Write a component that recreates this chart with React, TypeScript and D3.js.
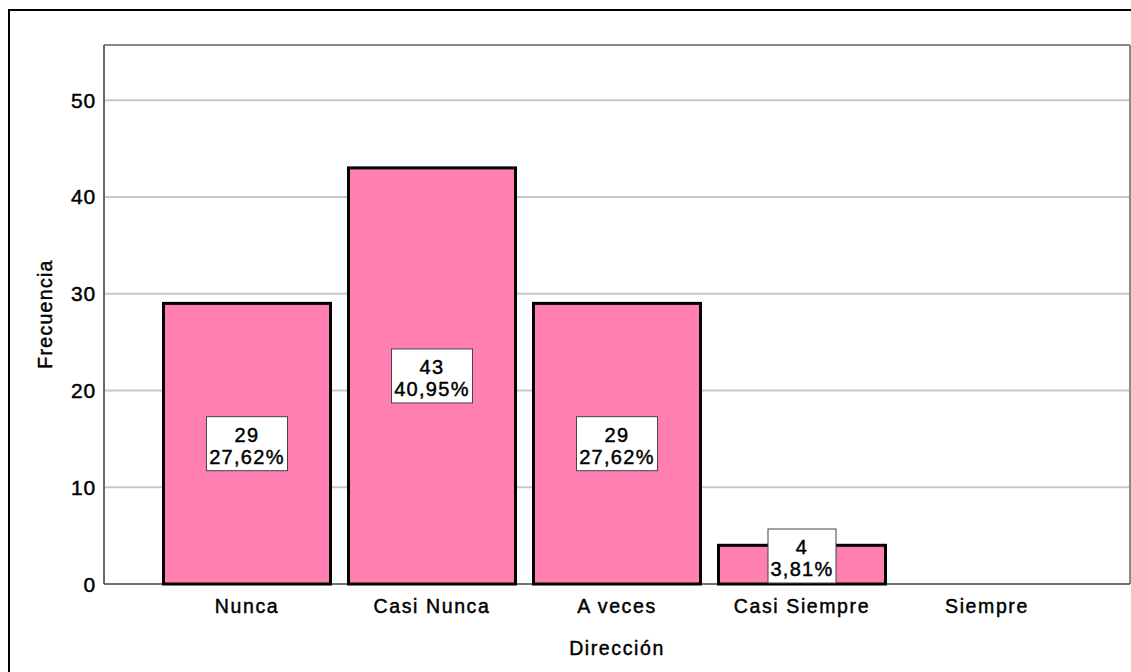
import React from 'react'
import * as d3 from 'd3'

const categories = ['Nunca', 'Casi Nunca', 'A veces', 'Casi Siempre', 'Siempre']
const counts = [29, 43, 29, 4, 0]
const percents = ['27,62%', '40,95%', '27,62%', '3,81%', '0%']
const yTicks = [0, 10, 20, 30, 40, 50]

const W = 1131
const H = 672
const margin = { top: 45, right: 1, bottom: 88, left: 104 }
const font = 'Arial, "Liberation Sans", sans-serif'

// SPSS-like text: regular face, slightly heavier and wider
const txt = { fill: '#000', stroke: '#000', strokeWidth: 0.45, letterSpacing: 1.3 }

export default function App() {
  const x = d3.scalePoint<string>()
    .domain(categories)
    .range([margin.left, W - margin.right])
    .padding(0.773)
  const y = d3.scaleLinear()
    .domain([0, 55.7])
    .range([H - margin.bottom, margin.top])
  const barW = 167
  const y0 = y(0)

  return (
    <svg width={W} height={H} style={{ position: 'absolute', left: 0, top: 0, background: '#fff' }}
      fontFamily={font}>
      {/* outer frame */}
      <rect x={9} y={10} width={W + 10} height={H + 10} fill="none" stroke="#000" strokeWidth={2} />

      {/* grid */}
      {yTicks.filter(t => t > 0).map(t => (
        <line key={t} x1={margin.left} x2={W - margin.right} y1={y(t)} y2={y(t)} stroke="#c8c8c8" strokeWidth={2} />
      ))}
      {/* plot border */}
      <line x1={margin.left} x2={W - margin.right} y1={margin.top} y2={margin.top} stroke="#888" strokeWidth={2} />
      <line x1={W - margin.right} x2={W - margin.right} y1={margin.top} y2={y0} stroke="#888" strokeWidth={2} />
      <line x1={margin.left} x2={margin.left} y1={margin.top} y2={y0} stroke="#666" strokeWidth={2} />
      <line x1={margin.left} x2={W - margin.right} y1={y0} y2={y0} stroke="#444" strokeWidth={1.5} />

      {/* y ticks */}
      {yTicks.map(t => (
        <text key={t} x={96} y={y(t)} dy="0.36em" textAnchor="end" fontSize={21} {...txt} letterSpacing={0.8}>{t}</text>
      ))}

      {/* bars */}
      {categories.map((c, i) => counts[i] > 0 && (
        <rect key={c} x={(x(c) as number) - barW / 2} y={y(counts[i])} width={barW} height={y0 - y(counts[i])}
          fill="#ff80b0" stroke="#000" strokeWidth={3} />
      ))}

      {/* labels */}
      {categories.map((c, i) => {
        if (counts[i] <= 0) return null
        const cx = x(c) as number
        const bw = percents[i].length > 5 ? 81 : 68
        let cy = (y(counts[i]) + y0) / 2
        if (cy + 27 > y0) cy = y0 - 28
        return (
          <g key={c}>
            <rect x={cx - bw / 2} y={cy - 27} width={bw} height={54} fill="#fff" stroke="#444" strokeWidth={1} />
            <text x={cx} y={cy - 2} textAnchor="middle" fontSize={20} {...txt}>{counts[i]}</text>
            <text x={cx} y={cy + 20} textAnchor="middle" fontSize={20} {...txt}>{percents[i]}</text>
          </g>
        )
      })}

      {/* x labels */}
      {categories.map(c => (
        <text key={c} x={x(c)} y={613} textAnchor="middle" fontSize={19.5} {...txt} letterSpacing={1.6}>{c}</text>
      ))}

      <text x={617} y={655} textAnchor="middle" fontSize={19.5} {...txt} letterSpacing={1.6}>Dirección</text>
      <text transform="translate(52,314) rotate(-90)" textAnchor="middle" fontSize={19.5} {...txt} letterSpacing={1.3}>Frecuencia</text>
    </svg>
  )
}
